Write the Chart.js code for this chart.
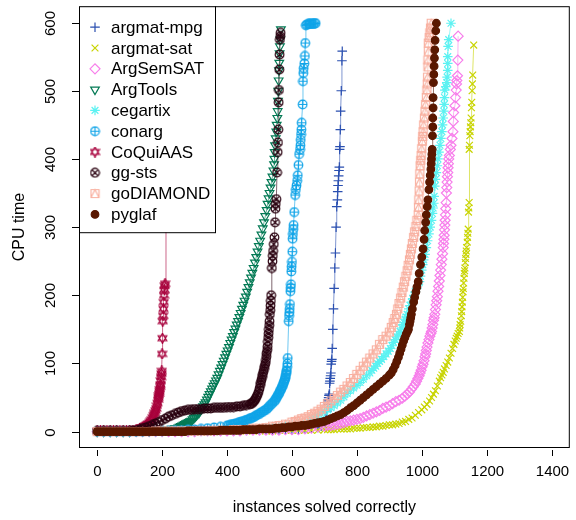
<!DOCTYPE html>
<html>
<head>
<meta charset="utf-8">
<script src="https://cdn.jsdelivr.net/npm/chart.js@4/dist/chart.umd.min.js"></script>
<style>
  html, body { margin: 0; padding: 0; background: #fff; }
  canvas { display: block; }
</style>
</head>
<body>
<canvas id="cactus" width="576" height="520"></canvas>
<script>
// tick labels
const xTicks = [0, 200, 400, 600, 800, 1000, 1200, 1400];
const yTicks = [0, 100, 200, 300, 400, 500, 600];

const solvers = ['argmat-mpg', 'argmat-sat', 'ArgSemSAT', 'ArgTools', 'cegartix',
  'conarg', 'CoQuiAAS', 'gg-sts', 'goDIAMOND', 'pyglaf'];

// [instances solved, cpu time]
const argmatMpg = [[0,0],[20,0],[40,0],[60,0],[80,0],[100,0],[120,0],[140,0],[160,0],[180,0],[200,0],[220,0],[240,0],[260,0],[280,0],[300,0],[320,1],[340,1],[360,1],[380,1],[400,1],[420,1],[440,1],[460,2],[480,2],[500,2],[520,2],[540,2],[560,2],[580,3],[600,3],[620,3],[640,4],[660,5],[680,6],[690,8],[700,12],[705,20],[708,30],[710,40],[711,45],[712,47],[713,50],[714,53],[715,55],[716,71],[717,74],[718,78],[719,82],[720,86],[721,99],[722,103],[723,106],[724,122],[726,150],[728,180],[730,210],[732,240],[734,262],[736,300],[738,330],[740,340],[741,352],[742,361],[743,368],[744,375],[745,383],[746,388],[747,414],[748,418],[749,443],[750,470],[752,500],[754,544],[755,558]];
const argmatSat = [[0,0],[20,0],[40,0],[60,0],[80,0],[100,0],[120,0],[140,0],[160,0],[180,0],[200,0],[220,0],[240,0],[260,0],[280,0],[300,0],[320,0],[340,0],[360,0],[380,1],[400,1],[420,1],[440,1],[460,1],[480,1],[500,1],[520,1],[540,1],[560,2],[580,2],[600,2],[620,2],[640,2],[660,2],[680,2],[700,3],[710,3],[720,3],[730,3],[740,4],[750,4],[760,4],[770,4],[780,4],[790,5],[800,5],[810,5],[820,6],[830,6],[840,6],[850,7],[860,7],[870,8],[880,8],[890,9],[900,10],[910,10],[920,11],[930,12],[940,14],[950,15],[960,18],[970,20],[980,24],[990,28],[1000,32],[1008,36],[1016,40],[1024,45],[1030,50],[1036,55],[1042,60],[1048,67],[1054,74],[1058,79],[1062,83],[1066,87],[1070,92],[1075,97],[1080,102],[1085,108],[1090,115],[1095,122],[1099,128],[1103,133],[1106,137],[1109,140],[1112,144],[1116,147],[1117,152],[1118,157],[1120,162],[1122,170],[1123,176],[1124,183],[1125,190],[1126,197],[1127,205],[1128,210],[1129,218],[1130,225],[1131,232],[1132,236],[1133,240],[1134,248],[1135,254],[1136,260],[1137,265],[1138,270],[1140,278],[1141,285],[1142,291],[1143,297],[1144,322],[1145,328],[1146,336],[1146,414],[1147,420],[1148,434],[1149,440],[1150,447],[1151,453],[1152,460],[1153,475],[1154,483],[1155,500],[1156,510],[1157,523],[1160,567]];
const argSemSat = [[0,0],[20,0],[40,0],[60,0],[80,0],[100,0],[120,0],[140,0],[160,0],[180,0],[200,0],[220,0],[240,0],[260,0],[280,0],[300,0],[320,1],[340,1],[360,1],[380,1],[400,1],[420,1],[440,1],[460,2],[480,2],[500,2],[520,2],[540,2],[560,2],[580,3],[600,3],[620,3],[640,4],[660,5],[680,7],[700,8],[710,9],[720,9],[730,10],[740,11],[750,12],[760,13],[770,15],[780,16],[790,17],[800,18],[810,19],[820,21],[830,23],[840,25],[850,27],[860,29],[870,31],[880,34],[890,36],[900,38],[910,41],[920,44],[930,46],[940,49],[948,52],[955,55],[962,58],[968,62],[974,66],[980,70],[984,74],[988,78],[992,82],[995,86],[998,90],[1001,95],[1004,99],[1007,104],[1010,110],[1012,114],[1014,119],[1016,124],[1019,130],[1022,135],[1025,140],[1028,144],[1030,147],[1032,152],[1034,157],[1036,163],[1038,167],[1040,172],[1042,179],[1044,186],[1046,192],[1048,198],[1050,206],[1052,213],[1054,221],[1056,229],[1058,237],[1060,245],[1062,253],[1064,261],[1066,270],[1067,276],[1068,282],[1069,288],[1070,296],[1071,303],[1072,310],[1073,318],[1074,327],[1075,336],[1076,350],[1077,358],[1078,366],[1079,374],[1080,380],[1081,387],[1082,393],[1083,400],[1085,405],[1088,414],[1090,420],[1093,430],[1096,440],[1097,455],[1098,468],[1102,478],[1104,490],[1106,501],[1107,510],[1108,515],[1110,522],[1111,545],[1112,580]];
const argTools = [[0,0],[20,0],[40,0],[60,0],[80,0],[100,0],[120,1],[140,1],[160,1],[180,2],[200,2],[210,3],[220,3],[230,4],[240,5],[250,6],[254,7],[258,8],[262,9],[266,10],[270,11],[274,12],[278,13],[282,14],[286,15],[290,16],[294,18],[298,20],[302,22],[306,24],[310,26],[314,28],[318,31],[322,34],[326,37],[330,40],[334,43],[338,47],[342,51],[346,55],[350,59],[354,63],[358,67],[362,71],[366,75],[370,79],[374,84],[378,89],[382,94],[386,99],[390,104],[394,109],[398,114],[402,119],[406,124],[410,130],[414,135],[418,140],[422,146],[426,151],[430,157],[434,162],[438,168],[442,174],[446,180],[450,186],[454,192],[458,198],[462,205],[466,212],[470,219],[474,226],[478,233],[482,240],[486,248],[490,256],[494,264],[498,272],[502,280],[506,289],[510,298],[514,307],[518,316],[522,325],[525,334],[528,342],[531,350],[534,358],[537,366],[540,374],[543,383],[545,392],[546,400],[547,410],[548,420],[550,430],[552,440],[553,450],[555,460],[556,470],[557,485],[558,500],[559,515],[560,530],[561,541],[562,555],[563,565],[564,575],[566,590]];
const cegartix = [[0,0],[20,0],[40,0],[60,0],[80,0],[100,0],[120,0],[140,0],[160,0],[180,0],[200,0],[220,1],[240,1],[260,1],[280,1],[300,1],[320,1],[340,1],[360,2],[380,2],[400,2],[420,3],[440,3],[460,3],[480,4],[500,4],[520,5],[540,6],[560,7],[580,8],[600,10],[620,12],[640,14],[660,18],[670,20],[679,23],[690,26],[700,29],[710,32],[720,35],[730,38],[740,42],[750,46],[760,51],[770,56],[780,60],[790,64],[800,68],[810,72],[820,77],[830,82],[840,86],[846,90],[852,93],[858,96],[864,100],[870,103],[876,106],[883,110],[890,114],[897,118],[903,122],[908,126],[913,131],[918,135],[923,139],[928,143],[933,147],[938,152],[942,157],[945,160],[949,165],[952,168],[955,172],[960,180],[964,185],[968,190],[972,195],[976,200],[980,205],[984,210],[988,214],[993,220],[996,228],[1000,237],[1003,245],[1006,252],[1010,260],[1014,270],[1018,280],[1022,290],[1026,300],[1030,310],[1033,320],[1035,328],[1037,335],[1038,345],[1040,360],[1042,370],[1045,380],[1048,390],[1050,400],[1053,410],[1056,420],[1059,430],[1062,440],[1064,450],[1066,460],[1068,470],[1069,480],[1070,490],[1071,501],[1074,506],[1077,512],[1078,520],[1080,530],[1080,540],[1080,550],[1081,565],[1083,575],[1090,599]];
const conarg = [[0,0],[20,0],[40,0],[60,0],[80,0],[100,0],[120,0],[140,0],[160,1],[180,1],[200,1],[220,1],[240,2],[260,2],[280,3],[300,3],[320,4],[340,5],[360,6],[380,7],[400,9],[405,9],[410,10],[415,10],[420,11],[425,12],[430,12],[435,13],[440,14],[445,15],[450,15],[455,16],[460,17],[465,18],[470,19],[475,20],[480,21],[485,22],[490,24],[495,25],[500,26],[505,28],[510,29],[515,31],[520,32],[524,34],[528,36],[532,38],[536,40],[540,42],[545,44],[548,46],[550,48],[553,50],[555,52],[558,54],[560,56],[562,58],[564,60],[566,62],[568,64],[570,66],[572,68],[574,71],[575,72],[577,75],[578,76],[579,78],[580,80],[581,83],[582,85],[583,88],[584,90],[585,95],[586,100],[587,108],[590,162],[591,170],[592,175],[593,180],[594,187],[595,206],[596,211],[597,216],[598,235],[599,242],[600,249],[601,264],[602,283],[603,290],[604,297],[605,303],[607,322],[610,347],[612,355],[614,361],[616,368],[618,376],[620,391],[622,407],[625,414],[626,420],[627,428],[628,436],[629,443],[630,453],[633,480],[634,514],[635,526],[636,533],[638,540],[640,551],[641,570],[643,596],[646,597],[650,598],[654,598],[658,598],[662,598],[666,598],[670,599],[673,599]];
const coquiaas = [[0,1],[10,1],[20,1],[30,1],[40,1],[50,1],[60,1],[70,1],[80,1],[90,1],[100,2],[110,2],[120,3],[125,3],[130,4],[135,5],[140,6],[145,8],[150,9],[153,10],[156,11],[159,12],[162,14],[165,16],[168,18],[171,21],[174,24],[176,26],[178,28],[180,31],[182,34],[184,38],[186,42],[188,47],[189,50],[190,53],[191,56],[192,59],[193,62],[194,66],[195,69],[196,75],[197,80],[198,85],[199,89],[200,114],[201,137],[202,162],[203,170],[204,180],[205,190],[206,200],[207,208],[208,214],[209,217],[212,580]];
const ggSts = [[0,1],[20,1],[40,1],[60,1],[80,1],[100,1],[110,1],[120,2],[130,3],[140,5],[150,6],[160,8],[170,10],[180,12],[190,14],[200,17],[210,19],[220,22],[230,24],[240,26],[250,28],[260,30],[270,31],[280,32],[290,32],[300,33],[310,33],[320,33],[330,34],[340,34],[350,34],[360,35],[370,35],[380,35],[390,35],[400,36],[410,36],[420,36],[430,37],[440,37],[450,38],[460,39],[470,40],[474,41],[478,42],[482,44],[485,46],[488,48],[491,51],[494,54],[497,58],[500,63],[502,68],[504,72],[506,76],[508,80],[510,84],[512,88],[514,92],[516,96],[518,100],[520,105],[521,110],[522,115],[524,120],[525,125],[526,132],[527,138],[528,144],[529,150],[530,156],[531,162],[532,172],[533,178],[534,185],[535,192],[536,200],[538,240],[540,250],[541,258],[542,265],[544,275],[546,285],[548,307],[549,327],[550,334],[552,341],[554,380],[556,410],[557,424],[558,443],[559,483],[560,501],[561,531],[562,553],[563,575],[564,580],[565,585]];
const goDiamond = [[0,0],[20,0],[40,0],[60,0],[80,0],[100,0],[120,0],[140,0],[160,0],[180,1],[200,1],[220,1],[240,1],[260,1],[280,1],[300,1],[320,1],[340,1],[360,2],[380,2],[400,2],[420,3],[440,3],[460,3],[480,5],[500,5],[520,6],[540,8],[560,9],[580,11],[600,14],[610,15],[620,17],[630,19],[640,20],[650,22],[660,25],[670,27],[680,30],[690,33],[700,37],[710,41],[720,45],[730,49],[740,53],[750,58],[760,62],[770,67],[780,72],[790,78],[800,84],[810,90],[820,96],[830,102],[840,108],[850,114],[860,120],[870,128],[880,135],[890,140],[900,146],[906,153],[912,160],[917,166],[922,172],[926,180],[930,188],[935,196],[939,204],[943,212],[947,220],[951,228],[955,236],[958,244],[962,252],[965,260],[968,268],[971,276],[975,285],[978,293],[982,301],[985,310],[989,318],[990,329],[991,340],[992,353],[993,366],[994,378],[995,390],[997,398],[998,405],[1000,415],[1002,426],[1003,433],[1004,440],[1006,450],[1008,460],[1010,470],[1012,480],[1014,490],[1016,501],[1017,510],[1018,520],[1019,535],[1019,545],[1020,558],[1020,570],[1023,578],[1025,585],[1027,592],[1029,599]];
const pyglaf = [[0,0],[10,0],[20,0],[30,0],[40,0],[50,0],[60,0],[70,0],[80,0],[90,0],[100,0],[110,0],[120,0],[130,0],[140,0],[150,0],[160,0],[170,0],[180,0],[190,0],[200,0],[210,0],[220,0],[230,0],[240,0],[250,0],[260,0],[270,0],[280,1],[290,1],[300,1],[310,1],[320,1],[330,1],[340,1],[350,1],[360,1],[370,1],[380,2],[390,2],[400,2],[410,2],[420,2],[430,2],[440,2],[450,3],[460,3],[470,3],[480,3],[490,3],[500,4],[510,4],[520,4],[530,4],[540,4],[550,5],[560,5],[570,6],[580,6],[590,7],[600,7],[610,8],[620,8],[630,9],[640,9],[650,10],[660,11],[670,12],[680,13],[690,14],[700,15],[710,17],[720,19],[730,21],[740,23],[750,25],[760,28],[770,31],[780,35],[790,38],[800,42],[810,46],[820,50],[830,54],[840,58],[850,62],[860,66],[870,70],[880,74],[890,78],[900,83],[906,86],[912,91],[918,97],[923,103],[928,109],[932,115],[936,121],[940,127],[944,133],[948,138],[952,143],[956,147],[959,150],[962,157],[964,162],[966,167],[968,172],[971,180],[975,190],[978,197],[982,205],[985,212],[989,220],[992,232],[996,245],[1000,256],[1004,268],[1007,282],[1009,295],[1012,307],[1014,318],[1017,330],[1019,340],[1022,355],[1024,366],[1026,376],[1028,385],[1029,393],[1030,400],[1031,407],[1032,414],[1033,434],[1034,447],[1034,460],[1035,475],[1035,490],[1036,512],[1037,524],[1038,536],[1039,548],[1040,560],[1041,574],[1043,588],[1045,599]];

const seriesData = [argmatMpg, argmatSat, argSemSat, argTools, cegartix,
  conarg, coquiaas, ggSts, goDiamond, pyglaf];
const colors = ['#2A4FB0', '#C8D400', '#F77EEB', '#047A55', '#5CF2F2',
  '#10A4E8', '#A8003C', '#2A0010', '#F8B0A0', '#5A1800'];

// small canvases for the R symbols chart.js doesn't have
function makeMarker(kind, color) {
  const c = document.createElement('canvas');
  c.width = 11; c.height = 11;
  const g = c.getContext('2d');
  const m = 5.5;
  g.strokeStyle = color;
  g.lineWidth = 1.2;
  g.beginPath();
  if (kind === 'circlePlus' || kind === 'circleX') {
    g.arc(m, m, 4.3, 0, Math.PI * 2);
    const d = kind === 'circlePlus' ? 4.3 : 3.0;
    if (kind === 'circlePlus') {
      g.moveTo(m - d, m); g.lineTo(m + d, m);
      g.moveTo(m, m - d); g.lineTo(m, m + d);
    } else {
      g.moveTo(m - d, m - d); g.lineTo(m + d, m + d);
      g.moveTo(m - d, m + d); g.lineTo(m + d, m - d);
    }
  } else if (kind === 'david') {
    const r = 5, h = r * 0.866;
    g.moveTo(m, m - r); g.lineTo(m - h, m + r / 2); g.lineTo(m + h, m + r / 2); g.closePath();
    g.moveTo(m, m + r); g.lineTo(m - h, m - r / 2); g.lineTo(m + h, m - r / 2); g.closePath();
  } else if (kind === 'squareTri') {
    g.rect(m - 4, m - 4, 8, 8);
    g.moveTo(m - 4, m + 4); g.lineTo(m, m - 4); g.lineTo(m + 4, m + 4);
  }
  g.stroke();
  return c;
}

function alpha(hex, a) {
  const n = parseInt(hex.slice(1), 16);
  return 'rgba(' + (n >> 16) + ',' + ((n >> 8) & 255) + ',' + (n & 255) + ',' + a + ')';
}

const markers = [
  { pointStyle: 'cross', radius: 4.8 },
  { pointStyle: 'crossRot', radius: 4.8 },
  { pointStyle: 'rectRot', radius: 5 },
  { pointStyle: 'triangle', radius: 5, rotation: 180 },
  { pointStyle: 'star', radius: 4.8 },
  { pointStyle: makeMarker('circlePlus', colors[5]), radius: 5 },
  { pointStyle: makeMarker('david', colors[6]), radius: 5 },
  { pointStyle: makeMarker('circleX', colors[7]), radius: 5 },
  { pointStyle: makeMarker('squareTri', colors[8]), radius: 5 },
  { pointStyle: 'circle', radius: 3.8, filled: true },
];

const datasets = solvers.map((name, i) => ({
  label: name,
  data: seriesData[i].map(p => ({ x: p[0], y: p[1] })),
  borderColor: alpha(colors[i], 0.6),
  borderWidth: 1,
  pointStyle: markers[i].pointStyle,
  pointRadius: markers[i].radius,
  pointRotation: markers[i].rotation || 0,
  pointBorderColor: colors[i],
  pointBackgroundColor: markers[i].filled ? colors[i] : 'rgba(0,0,0,0)',
  pointBorderWidth: 1.2,
  order: solvers.length - i, // last solver drawn on top, like R
  tension: 0,
}));

const FONT = '"Liberation Sans", Arial, sans-serif';

// R-style box, axes, titles and legend
const rAxes = {
  id: 'rAxes',
  afterDraw(chart) {
    const ctx = chart.ctx;
    const a = chart.chartArea;
    const xs = chart.scales.x, ys = chart.scales.y;
    ctx.save();
    ctx.strokeStyle = '#000';
    ctx.fillStyle = '#000';
    ctx.lineWidth = 1;
    ctx.strokeRect(a.left + 0.5, a.top + 0.5, a.right - a.left - 1, a.bottom - a.top - 1);

    ctx.font = '15px ' + FONT;
    ctx.textAlign = 'center';
    ctx.textBaseline = 'middle';
    xTicks.forEach(v => {
      const px = Math.round(xs.getPixelForValue(v)) + 0.5;
      ctx.beginPath();
      ctx.moveTo(px, a.bottom + 2); ctx.lineTo(px, a.bottom + 8);
      ctx.stroke();
      ctx.fillText(String(v), px, a.bottom + 24);
    });
    yTicks.forEach(v => {
      const py = Math.round(ys.getPixelForValue(v)) + 0.5;
      ctx.beginPath();
      ctx.moveTo(a.left - 7, py); ctx.lineTo(a.left, py);
      ctx.stroke();
      ctx.save();
      ctx.translate(a.left - 28, py);
      ctx.rotate(-Math.PI / 2);
      ctx.fillText(String(v), 0, 0);
      ctx.restore();
    });
    ctx.font = '16px ' + FONT;
    ctx.fillText('instances solved correctly', (a.left + a.right) / 2, 508);
    ctx.save();
    ctx.translate(20, (a.top + a.bottom) / 2);
    ctx.rotate(-Math.PI / 2);
    ctx.fillText('CPU time', 0, 0);
    ctx.restore();

    // legend box
    const lx = a.left, ly = a.top, lw = 136, lh = 226;
    ctx.fillStyle = '#fff';
    ctx.fillRect(lx, ly, lw, lh);
    ctx.strokeStyle = '#000';
    ctx.strokeRect(lx + 0.5, ly + 0.5, lw, lh);
    ctx.font = '17px ' + FONT;
    ctx.textAlign = 'left';
    solvers.forEach((name, i) => {
      const cy = ly + 21 + i * 20.8;
      ctx.strokeStyle = colors[i];
      ctx.fillStyle = markers[i].filled ? colors[i] : 'rgba(0,0,0,0)';
      ctx.lineWidth = 1.2;
      Chart.helpers.drawPoint(ctx, {
        pointStyle: markers[i].pointStyle,
        radius: markers[i].radius,
        rotation: markers[i].rotation || 0,
        borderWidth: 1.2,
      }, lx + 16, cy);
      ctx.fillStyle = '#000';
      ctx.fillText(name, lx + 32, cy + 1);
    });
    ctx.restore();
  }
};

new Chart(document.getElementById('cactus'), {
  type: 'line',
  data: { datasets: datasets },
  options: {
    responsive: false,
    animation: false,
    layout: { padding: { left: 79, right: 1, top: 3, bottom: 72 } },
    scales: {
      x: { type: 'linear', min: -56, max: 1456, display: false },
      y: { type: 'linear', min: -24, max: 624, display: false },
    },
    plugins: { legend: { display: false }, tooltip: { enabled: false } },
  },
  plugins: [rAxes],
});
</script>
</body>
</html>
